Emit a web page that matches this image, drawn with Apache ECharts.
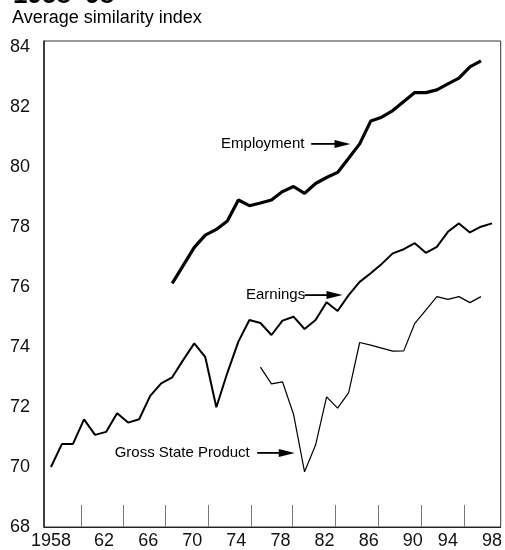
<!DOCTYPE html>
<html>
<head>
<meta charset="utf-8">
<script src="https://cdn.jsdelivr.net/npm/echarts@6/dist/echarts.min.js"></script>
<style>
html,body{margin:0;padding:0;background:#fff;}
#c{width:505px;height:550px;}
</style>
</head>
<body>
<div id="c"></div>
<script>
// ---- Data ----
const earningsYears = [1958,1959,1960,1961,1962,1963,1964,1965,1966,1967,1968,1969,1970,1971,1972,1973,1974,1975,1976,1977,1978,1979,1980,1981,1982,1983,1984,1985,1986,1987,1988,1989,1990,1991,1992,1993,1994,1995,1996,1997,1998];
const earnings = [70.0,70.77,70.77,71.59,71.07,71.17,71.79,71.48,71.59,72.37,72.79,72.99,73.57,74.12,73.66,71.99,73.14,74.18,74.9,74.8,74.4,74.88,75.01,74.6,74.9,75.49,75.2,75.73,76.17,76.46,76.77,77.12,77.26,77.46,77.14,77.34,77.84,78.12,77.82,78.01,78.12];
const employmentYears = [1969,1970,1971,1972,1973,1974,1975,1976,1977,1978,1979,1980,1981,1982,1983,1984,1985,1986,1987,1988,1989,1990,1991,1992,1993,1994,1995,1996,1997];
const employment = [76.12,76.72,77.32,77.73,77.92,78.2,78.9,78.71,78.8,78.9,79.18,79.35,79.12,79.45,79.65,79.82,80.29,80.77,81.53,81.66,81.88,82.18,82.48,82.48,82.57,82.77,82.96,83.34,83.54];
const gspYears = [1977,1978,1979,1980,1981,1982,1983,1984,1985,1986,1987,1988,1989,1990,1991,1992,1993,1994,1995,1996,1997];
const gsp = [73.33,72.77,72.84,71.76,69.84,70.73,72.34,71.96,72.48,74.15,74.06,73.96,73.86,73.87,74.79,75.23,75.68,75.59,75.68,75.48,75.68];
const xLabelYears = [1958,1962,1966,1970,1974,1978,1982,1986,1990,1994,1998];
const xLabelTexts = ['1958','62','66','70','74','78','82','86','90','94','98'];
const xTickYears = [1960.71,1964.59,1968.38,1972.26,1976.14,1979.93,1983.81,1987.69,1991.57,1995.45];
const yLabelValues = [68,70,72,74,76,78,80,82,84];

// annotations: text, anchor [year, value] of text left, arrow from/to years
const annotations = [
  {text:'Employment', at:[1973.43,80.77], arrowFrom:1981.6, arrowTo:1985.17},
  {text:'Earnings', at:[1975.69,75.73], arrowFrom:1981.0, arrowTo:1984.44},
  {text:'Gross State Product', at:[1963.78,70.47], arrowFrom:1976.7, arrowTo:1980.11}
];

function pairs(xs, ys){ return xs.map((x,i)=>[x, ys[i]]); }

const FONT = 'Liberation Sans, Arial, Helvetica, sans-serif';
const chart = echarts.init(document.getElementById('c'), null, {renderer:'canvas'});

const option = {
  animation:false,
  backgroundColor:'#ffffff',
  grid:{left:44, right:2, top:41, bottom:23, show:true, borderColor:'#333', borderWidth:1},
  xAxis:{
    type:'value', min:1957.37, max:1998.79,
    splitLine:{show:false},
    axisLine:{show:true, onZero:false, lineStyle:{color:'#222', width:1}},
    axisTick:{show:true, inside:true, length:22, customValues:xTickYears, lineStyle:{color:'#777', width:1}},
    axisLabel:{show:true, margin:5, color:'#111', fontFamily:FONT, fontSize:18,
      customValues:xLabelYears,
      rich:{s:{fontFamily:FONT, fontSize:18, color:'#111', padding:[0,0,0,18]}},
      formatter:function(v){
        const i = xLabelYears.indexOf(Math.round(v));
        if (i < 0) return '';
        return (i > 0 && i < xLabelYears.length - 2) ? '{s|' + xLabelTexts[i] + '}' : xLabelTexts[i];
      }}
  },
  yAxis:{
    type:'value', min:68, max:84.2,
    splitLine:{show:false},
    axisLine:{show:true, onZero:false, lineStyle:{color:'#222', width:1.5}},
    axisTick:{show:false},
    axisLabel:{show:true, margin:14, color:'#111', fontFamily:FONT, fontSize:18,
      customValues:yLabelValues, formatter:function(v){return String(Math.round(v));}}
  },
  series:[
    {type:'line', name:'Employment', data:pairs(employmentYears, employment), symbol:'none',
      lineStyle:{color:'#000', width:3.2}, z:5},
    {type:'line', name:'Earnings', data:pairs(earningsYears, earnings), symbol:'none',
      lineStyle:{color:'#000', width:2}, z:4},
    {type:'line', name:'Gross State Product', data:pairs(gspYears, gsp), symbol:'none',
      lineStyle:{color:'#000', width:1.2}, z:3}
  ]
};
chart.setOption(option);

const g = [];
g.push({type:'text', x:13, y:-4, style:{text:'1958–98', font:'bold 26px '+FONT, fill:'#000', textVerticalAlign:'middle'}});
g.push({type:'text', x:12, y:18, style:{text:'Average similarity index', font:'18px '+FONT, fill:'#000', textVerticalAlign:'middle'}});
annotations.forEach(function(a){
  const p = chart.convertToPixel({gridIndex:0}, a.at);
  const f = chart.convertToPixel({gridIndex:0}, [a.arrowFrom, a.at[1]]);
  const t = chart.convertToPixel({gridIndex:0}, [a.arrowTo, a.at[1]]);
  g.push({type:'text', x:p[0], y:p[1], style:{text:a.text, font:'15px '+FONT, fill:'#000', textVerticalAlign:'middle'}});
  g.push({type:'line', shape:{x1:f[0], y1:f[1], x2:t[0]-12, y2:t[1]}, style:{stroke:'#000', lineWidth:1.8}});
  g.push({type:'polygon', shape:{points:[[t[0],t[1]],[t[0]-16,t[1]-4],[t[0]-16,t[1]+4]]}, style:{fill:'#000'}});
});
chart.setOption({graphic:g});
</script>
</body>
</html>
